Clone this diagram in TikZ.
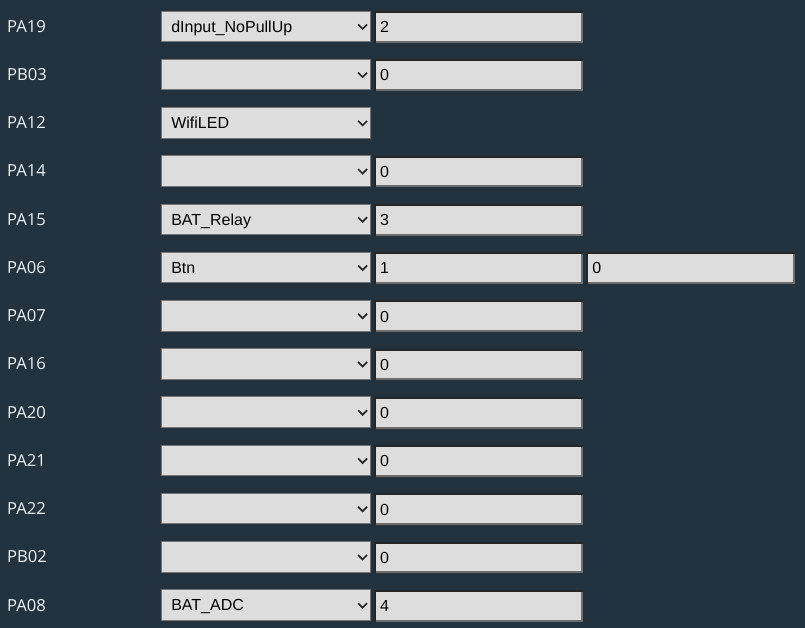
\documentclass[tikz,border=0pt]{standalone}
\usepackage{fontspec}
\setmainfont{Liberation Sans}
\newfontfamily\pinfont{Open Sans}
\usepackage{tikz}
\usetikzlibrary{calc}

\definecolor{pagebg}{HTML}{22333F}
\definecolor{boxgray}{HTML}{DDDDDD}
\definecolor{selborder}{HTML}{767676}
\definecolor{insetdark}{HTML}{262626}
\definecolor{insetlight}{HTML}{6E6E6E}
\definecolor{pinwhite}{HTML}{EEF3F6}

\tikzset{
  pinlabel/.style={anchor=base west,inner sep=0pt,text=pinwhite,
    font=\pinfont\fontsize{16.6}{16}\selectfont},
  selectbox/.style={anchor=west,draw=selborder,fill=boxgray,line width=1pt,
    minimum width=209pt,minimum height=30.5pt,text width=190pt,
    inner xsep=9.5pt,inner ysep=0pt,align=left,text height=11.6pt,text depth=0pt,
    font=\fontsize{16}{16}\selectfont},
  valuebox/.style={anchor=west,fill=boxgray,
    minimum width=208.8pt,minimum height=31.4pt,text width=195.8pt,
    inner xsep=6.5pt,inner ysep=0pt,align=left,text height=11.6pt,text depth=0pt,
    font=\fontsize{16}{16}\selectfont},
  chevron/.style={line width=1.7pt,black!85,line join=miter},
  insetshade/.style={line width=2pt,insetdark},
  insetlit/.style={line width=2pt,insetlight}
}

\begin{document}
\begin{tikzpicture}[x=1pt,y=-1pt]
  % page background
  \fill[pagebg] (0,0) rectangle (805,628);
  % pin names and role selectors
  \foreach \i/\pin/\role in {0/PA19/dInput\_NoPullUp,1/PB03/{},2/PA12/WifiLED,
      3/PA14/{},4/PA15/BAT\_Relay,5/PA06/Btn,6/PA07/{},7/PA16/{},8/PA20/{},
      9/PA21/{},10/PA22/{},11/PB02/{},12/PA08/BAT\_ADC}{
    \node[pinlabel] (pin\i) at (7,{26.5+48.23*\i+5.8}) {\pin};
    \node[selectbox] (sel\i) at (161.3,{26.4+48.23*\i}) {\role};
    \draw[chevron] ([xshift=-13.2pt,yshift=2pt]sel\i.east) -- ([xshift=-8.7pt,yshift=-2.5pt]sel\i.east)
      -- ([xshift=-4.2pt,yshift=2pt]sel\i.east);
  }
  % channel fields
  \foreach \i/\val in {0/2,1/0,3/0,4/3,5/1,6/0,7/0,8/0,9/0,10/0,11/0,12/4}{
    \node[valuebox] (val\i) at (373.5,{26.9+48.23*\i}) {\val};
    \draw[insetshade] ([xshift=1pt]val\i.south west) -- ([xshift=1pt,yshift=-1pt]val\i.north west)
      -- ([yshift=-1pt]val\i.north east);
    \draw[insetlit] ([xshift=2pt,yshift=1pt]val\i.south west) -- ([xshift=-1pt,yshift=1pt]val\i.south east)
      -- ([xshift=-1pt,yshift=-2pt]val\i.north east);
  }
  % second field of the button pin
  \node[valuebox,minimum width=209.3pt,text width=196.3pt] (val5b) at (585.7,{26.9+48.23*5}) {0};
  \draw[insetshade] ([xshift=1pt]val5b.south west) -- ([xshift=1pt,yshift=-1pt]val5b.north west)
    -- ([yshift=-1pt]val5b.north east);
  \draw[insetlit] ([xshift=2pt,yshift=1pt]val5b.south west) -- ([xshift=-1pt,yshift=1pt]val5b.south east)
    -- ([xshift=-1pt,yshift=-2pt]val5b.north east);
\end{tikzpicture}
\end{document}
